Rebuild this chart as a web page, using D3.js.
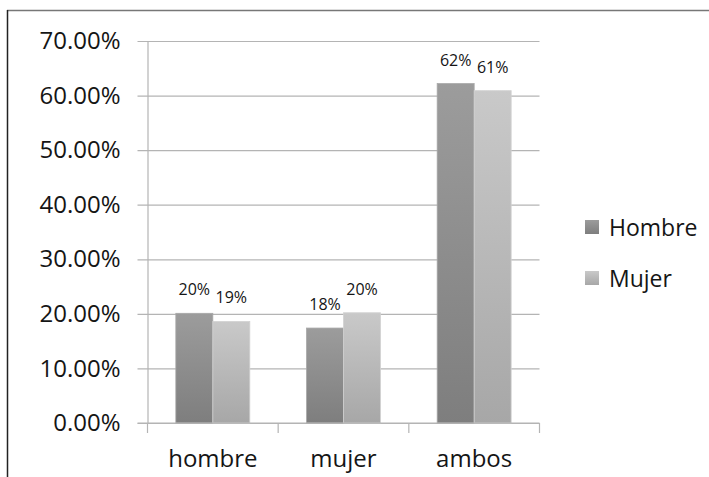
<!DOCTYPE html>
<html>
<head>
<meta charset="utf-8">
<script src="https://cdn.jsdelivr.net/npm/d3@7"></script>
<style>
  html, body { margin: 0; padding: 0; background: #fff; }
  svg { display: block; }
  text { font-family: "Open Sans", "DejaVu Sans", sans-serif; fill: #151515; }
</style>
</head>
<body>
<script>
// Chart data
const categories = ["hombre", "mujer", "ambos"];
const seriesNames = ["Hombre", "Mujer"];
const hombreValues = [0.201, 0.174, 0.622];
const mujerValues = [0.186, 0.202, 0.609];
const valueLabels = [["20%", "18%", "62%"], ["19%", "20%", "61%"]];
const yTicks = [0, 0.1, 0.2, 0.3, 0.4, 0.5, 0.6, 0.7];

const W = 709, H = 477;
const svg = d3.select("body").append("svg").attr("width", W).attr("height", H);

// Gradients for the bar fills
const defs = svg.append("defs");
const gradStops = [["#9c9c9c", "#7e7e7e"], ["#c9c9c9", "#a7a7a7"]];
gradStops.forEach((s, i) => {
  const g = defs.append("linearGradient").attr("id", "grad" + i)
    .attr("x1", 0).attr("y1", 0).attr("x2", 0).attr("y2", 1);
  g.append("stop").attr("offset", "0%").attr("stop-color", s[0]);
  g.append("stop").attr("offset", "100%").attr("stop-color", s[1]);
});

// Outer frame
svg.append("line").attr("x1", 7).attr("x2", W).attr("y1", 10.5).attr("y2", 10.5)
  .attr("stroke", "#777").attr("stroke-width", 1.5);
svg.append("line").attr("x1", 7.5).attr("x2", 7.5).attr("y1", 10).attr("y2", H)
  .attr("stroke", "#222").attr("stroke-width", 1.5);

const plotLeft = 147.5, plotRight = 539.5, plotTop = 41, plotBottom = 423;

const x = d3.scaleBand().domain(categories).range([plotLeft, plotRight]).paddingInner(0).paddingOuter(0);
const xInner = d3.scaleBand().domain(seriesNames)
  .range([x.bandwidth() / 2 - 37, x.bandwidth() / 2 + 37]);
const y = d3.scaleLinear().domain([0, 0.7]).range([plotBottom, plotTop]);

const gridColor = "#b4b4b4";

// Horizontal gridlines with tick stubs to the left
const grid = svg.append("g").attr("transform", `translate(${plotRight},0)`)
  .call(d3.axisLeft(y).tickValues(yTicks).tickSize(plotRight - plotLeft + 10).tickFormat(""));
grid.select(".domain").remove();
grid.selectAll(".tick line").attr("stroke", gridColor).attr("stroke-width", 1.2);

// Y axis line and labels
const yAxis = svg.append("g").attr("transform", `translate(${plotLeft},0)`)
  .call(d3.axisLeft(y).tickValues(yTicks).tickSize(0).tickPadding(27)
    .tickFormat(d => (d * 100).toFixed(2) + "%"));
yAxis.select(".domain").attr("stroke", gridColor).attr("stroke-width", 1.2);
yAxis.selectAll(".tick text").attr("font-size", 24).attr("fill", "#151515")
  .attr("font-family", "'Open Sans', sans-serif");

// Bars
const seriesValues = [hombreValues, mujerValues];
seriesNames.forEach((name, si) => {
  const g = svg.append("g");
  g.selectAll("rect").data(categories).join("rect")
    .attr("x", c => x(c) + xInner(name))
    .attr("y", (c, i) => y(seriesValues[si][i]))
    .attr("width", xInner.bandwidth())
    .attr("height", (c, i) => y(0) - y(seriesValues[si][i]))
    .attr("fill", `url(#grad${si})`)
    .attr("stroke", si === 0 ? "#a8a8a8" : "#d2d2d2").attr("stroke-width", 0.8);
  g.selectAll("text").data(categories).join("text")
    .attr("x", c => x(c) + xInner(name) + xInner.bandwidth() / 2)
    .attr("y", (c, i) => y(seriesValues[si][i]) - 18)
    .attr("text-anchor", "middle")
    .attr("font-size", 16)
    .attr("fill", "#222")
    .text((c, i) => valueLabels[si][i]);
});

// X axis with ticks at category boundaries
const xAxis = svg.append("g").attr("transform", `translate(0,${plotBottom})`);
xAxis.append("line").attr("x1", plotLeft - 10).attr("x2", plotRight)
  .attr("stroke", gridColor).attr("stroke-width", 1.2);
const boundaries = categories.map(c => x(c)).concat([x(categories[categories.length - 1]) + x.bandwidth()]);
xAxis.selectAll("line.tk").data(boundaries).join("line").attr("class", "tk")
  .attr("x1", d => d).attr("x2", d => d).attr("y1", 0).attr("y2", 10)
  .attr("stroke", gridColor).attr("stroke-width", 1.2);
xAxis.selectAll("text").data(categories).join("text")
  .attr("x", c => x(c) + x.bandwidth() / 2)
  .attr("y", 44)
  .attr("text-anchor", "middle")
  .attr("font-size", 24)
  .text(c => c);

// Legend
const legend = svg.append("g");
seriesNames.forEach((name, i) => {
  const ly = 220 + i * 51;
  legend.append("rect").attr("x", 585).attr("y", ly).attr("width", 14).attr("height", 14)
    .attr("fill", `url(#grad${i})`);
  legend.append("text").attr("x", 609).attr("y", ly + 15.5)
    .attr("font-size", 23).text(name);
});
</script>
</body>
</html>
